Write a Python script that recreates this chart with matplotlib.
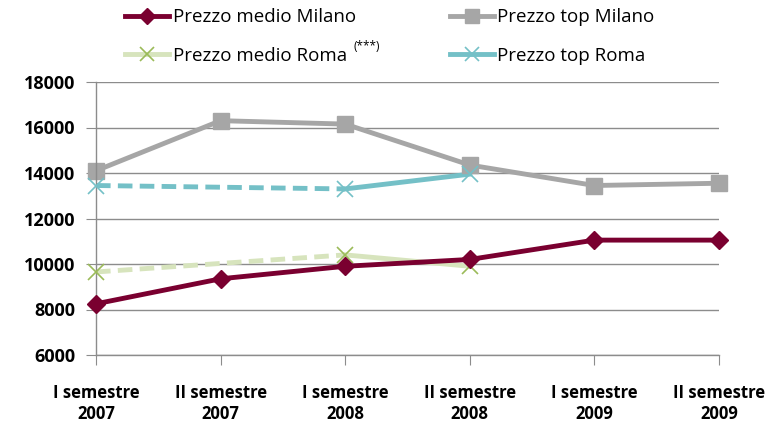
import numpy as np
import matplotlib
matplotlib.use("Agg")
import matplotlib.pyplot as plt
from matplotlib.lines import Line2D

plt.rcParams['font.family'] = ['Open Sans', 'DejaVu Sans']

periods = ["I semestre\n2007", "II semestre\n2007", "I semestre\n2008",
           "II semestre\n2008", "I semestre\n2009", "II semestre\n2009"]
medio_milano = [8250, 9350, 9900, 10200, 11050, 11050]
top_milano = [14100, 16300, 16150, 14350, 13450, 13550]
# Roma: only I sem 2007, I sem 2008, II sem 2008 (gap bridged with dashes)
roma_idx = [0, 2, 3]
medio_roma = [9650, 10400, 9900]
top_roma = [13450, 13300, 13950]

c_mm = "#7a0030"
c_tm = "#a6a6a6"
c_mr_line = "#d7e4bd"
c_mr_mark = "#9bbb59"
c_tr = "#74c0c7"

fig = plt.figure(figsize=(7.77, 4.24), dpi=100)
ax = fig.add_axes([96 / 777, 1 - 355 / 424, (719 - 96) / 777, (355 - 82) / 424])

x = np.arange(len(periods))

ax.plot(roma_idx[:2], top_roma[:2], color=c_tr, lw=3.5, ls=(0, (3, 1.5)), zorder=2)
ax.plot(roma_idx[1:], top_roma[1:], color=c_tr, lw=3.5, zorder=2)
ax.plot(roma_idx, top_roma, ls='none', marker='x', ms=11, mew=1.2, color=c_tr, zorder=3)

ax.plot(roma_idx[:2], medio_roma[:2], color=c_mr_line, lw=3.5, ls=(0, (3, 1.5)), zorder=2)
ax.plot(roma_idx[1:], medio_roma[1:], color=c_mr_line, lw=3.5, zorder=2)
ax.plot(roma_idx, medio_roma, ls='none', marker='x', ms=11, mew=1.2, color=c_mr_mark, zorder=3)

ax.plot(x, top_milano, color=c_tm, lw=3.5, marker='s', ms=12, zorder=2)
ax.plot(x, medio_milano, color=c_mm, lw=3.5, marker='D', ms=9.5, zorder=4)

ax.set_xlim(0, 5)
ax.set_ylim(6000, 18000)
ax.set_yticks(np.arange(6000, 18001, 2000))
ax.set_xticks(x)
ax.set_xticklabels(periods, fontsize=12, fontweight='bold', linespacing=1.2)
for lab in ax.get_yticklabels():
    lab.set_fontsize(13)
    lab.set_fontweight('bold')

ax.grid(axis='y', color='#8c8c8c', lw=1)
ax.set_axisbelow(True)
for s in ['top', 'right']:
    ax.spines[s].set_visible(False)
for s in ['left', 'bottom']:
    ax.spines[s].set_color('#8c8c8c')
    ax.spines[s].set_linewidth(1)
ax.tick_params(axis='x', colors='#8c8c8c', length=7, pad=14, labelcolor='black')
ax.tick_params(axis='y', colors='#8c8c8c', length=7, pad=8, labelcolor='black')
for ln in ax.lines:
    ln.set_clip_on(False)

handles = [
    Line2D([], [], color=c_mm, lw=3.5, marker='D', ms=8),
    Line2D([], [], color=c_mr_line, lw=3.5, marker='x', ms=10, mec=c_mr_mark, mew=1.2),
    Line2D([], [], color=c_tm, lw=3.5, marker='s', ms=10),
    Line2D([], [], color=c_tr, lw=3.5, marker='x', ms=10, mew=1.2),
]
labels = ["Prezzo medio Milano", "Prezzo medio Roma", "Prezzo top Milano", "Prezzo top Roma"]
fig.legend(handles, labels, ncol=2, loc='upper left', bbox_to_anchor=(108 / 777, 1.02),
           frameon=False, fontsize=13.5, handlelength=2.35, handletextpad=0.2,
           columnspacing=5.0, labelspacing=1.1)
fig.text(354 / 777, 1 - 47 / 424, "(***)", fontsize=8.5, va='center')

fig.savefig("out.png", dpi=100)
